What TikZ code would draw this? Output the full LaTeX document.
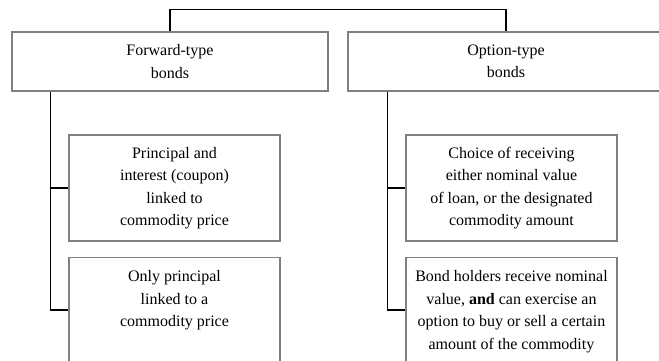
\documentclass[tikz,border=0pt]{standalone}
\usepackage{fontspec}
\setmainfont{Liberation Serif}
\begin{document}
\begin{tikzpicture}[x=1pt,y=-1pt,
  box/.style={draw=black!50, line width=1.3pt, align=center,
    font=\fontsize{16}{22.5}\selectfont, inner sep=0pt},
  conn/.style={draw=black, line width=1.5pt}]
\useasboundingbox (0,0) rectangle (659,361);
\clip (0,0) rectangle (659,361);
% top level
\node[box, minimum width=316pt, minimum height=59pt] (tl) at (170,61.5) {Forward-type\\bonds};
\node[box, minimum width=316pt, minimum height=59pt] (tr) at (506,61.5) {Option-type\\bonds};
% children
\node[box, minimum width=211pt, minimum height=106pt] (l1) at (174.5,188) {Principal and\\interest (coupon)\\linked to\\commodity price};
\node[box, anchor=north, minimum width=211pt, inner ysep=13pt, text depth=90pt] (l2) at (174.5,257) {Only principal\\linked to a\\commodity price};
\node[box, minimum width=211pt, minimum height=106pt] (r1) at (511.5,188) {Choice of receiving\\either nominal value\\of loan, or the designated\\commodity amount};
\node[box, anchor=north, minimum width=211pt, inner ysep=13pt, text depth=90pt] (r2) at (511.5,257) {Bond holders receive nominal\\value, \textbf{and} can exercise an\\option to buy or sell a certain\\amount of the commodity};
% connectors
\draw[conn] (tl.north) -- ++(0,-22) -| (tr.north);
\coordinate (ltrunk) at ([xshift=39pt]tl.south west);
\coordinate (l2in) at ([yshift=-53pt]l2.north west);
\draw[conn] (ltrunk) |- (l1.west);
\draw[conn] (ltrunk) |- (l2in);
\coordinate (rtrunk) at ([xshift=40pt]tr.south west);
\coordinate (r2in) at ([yshift=-53pt]r2.north west);
\draw[conn] (rtrunk) |- (r1.west);
\draw[conn] (rtrunk) |- (r2in);
\end{tikzpicture}
\end{document}
